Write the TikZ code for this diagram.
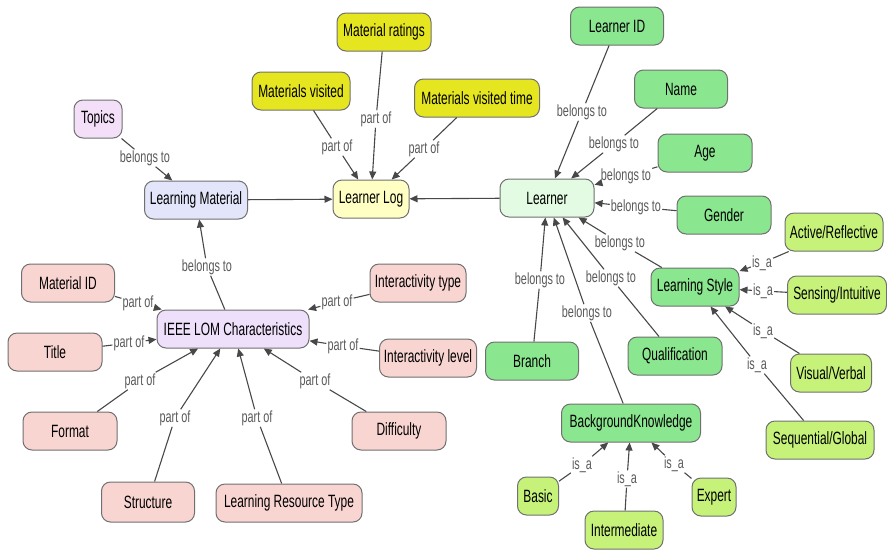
\documentclass[tikz,border=0pt]{standalone}
\usepackage{fontspec}
\setmainfont{Liberation Sans}[FakeStretch=0.67]
\usetikzlibrary{arrows.meta}
\definecolor{boxborder}{HTML}{707070}
\definecolor{lblgray}{HTML}{5A5A5A}
\definecolor{linegray}{HTML}{484848}
\definecolor{matyellow}{HTML}{E6E620}
\definecolor{logyellow}{HTML}{FFFFC4}
\definecolor{topicc}{HTML}{F3E0F8}
\definecolor{learnmat}{HTML}{E3E5FA}
\definecolor{ieeec}{HTML}{EEDFFA}
\definecolor{pinkc}{HTML}{F9D5D2}
\definecolor{greenc}{HTML}{8AE68F}
\definecolor{learnerc}{HTML}{E2FBE2}
\definecolor{limec}{HTML}{C6F27A}
\begin{document}
\begin{tikzpicture}[x=1pt,y=-1pt,
 box/.style={draw=boxborder, line width=1pt, rounded corners=9pt, minimum height=38pt, inner sep=3pt, font=\fontsize{17.8}{19}\selectfont, text=black},
 lbl/.style={fill=white, inner sep=1pt, text=lblgray, font=\fontsize{16.2}{18}\selectfont},
 conn/.style={draw=linegray, line width=1.1pt},
 arr/.style={conn, -{Triangle[length=8pt,width=7pt]}}]
\useasboundingbox (0,0) rectangle (887,550);
% ---- nodes
\node[box, fill=topicc, minimum width=48pt] (topics) at (98,119) {Topics};
\node[box, fill=learnmat, minimum width=103pt] (lm) at (196,200) {Learning Material};
\node[box, fill=logyellow, minimum width=76pt] (ll) at (371,199) {Learner Log};
\node[box, fill=matyellow, minimum width=98pt] (mv) at (301,91) {Materials visited};
\node[box, fill=matyellow, minimum width=94pt] (mr) at (384,32) {Material ratings};
\node[box, fill=matyellow, minimum width=125pt] (mvt) at (477,98) {Materials visited time};
\node[box, fill=greenc, minimum width=93pt] (lid) at (617,26) {Learner ID};
\node[box, fill=greenc, minimum width=93pt] (name) at (681,89) {Name};
\node[box, fill=greenc, minimum width=94pt] (age) at (705,153) {Age};
\node[box, fill=greenc, minimum width=94pt] (gender) at (724,215) {Gender};
\node[box, fill=learnerc, minimum width=94pt] (learner) at (547,198) {Learner};
\node[box, fill=limec, minimum width=98pt] (act) at (834,232) {Active/Reflective};
\node[box, fill=greenc, minimum width=88pt] (ls) at (695,287) {Learning Style};
\node[box, fill=limec, minimum width=99pt] (sens) at (837,295) {Sensing/Intuitive};
\node[box, fill=limec, minimum width=81pt] (vis) at (831,373) {Visual/Verbal};
\node[box, fill=limec, minimum width=108pt] (seq) at (820,440) {Sequential/Global};
\node[box, fill=greenc, minimum width=94pt] (qual) at (675,356) {Qualification};
\node[box, fill=greenc, minimum width=93pt] (branch) at (532,361) {Branch};
\node[box, fill=greenc, minimum width=139pt] (bk) at (631,423) {BackgroundKnowledge};
\node[box, fill=limec, minimum width=41pt] (basic) at (538,496) {Basic};
\node[box, fill=limec, minimum width=78pt] (inter) at (624,530) {Intermediate};
\node[box, fill=limec, minimum width=44pt] (expert) at (714,497) {Expert};
\node[box, fill=pinkc, minimum width=93pt] (mid) at (68,283) {Material ID};
\node[box, fill=ieeec, minimum width=152pt] (ieee) at (233,329) {IEEE LOM Characteristics};
\node[box, fill=pinkc, minimum width=96pt] (itype) at (418,283) {Interactivity type};
\node[box, fill=pinkc, minimum width=94pt] (title) at (55,352) {Title};
\node[box, fill=pinkc, minimum width=97pt] (ilevel) at (428,358) {Interactivity level};
\node[box, fill=pinkc, minimum width=94pt] (format) at (70,431) {Format};
\node[box, fill=pinkc, minimum width=94pt] (diff) at (399,431) {Difficulty};
\node[box, fill=pinkc, minimum width=93pt, minimum height=40pt] (struct) at (148,502) {Structure};
\node[box, fill=pinkc, minimum width=146pt] (lrt) at (289,503) {Learning Resource Type};
% ---- labels
\node[lbl] (l1) at (145,158) {belongs to};
\node[lbl] (l2) at (207,267) {belongs to};
\node[lbl] (l5) at (337,147) {part of};
\node[lbl] (l6) at (376,119) {part of};
\node[lbl] (l7) at (424,149) {part of};
\node[lbl] (l8) at (582,112) {belongs to};
\node[lbl] (l9) at (614,144) {belongs to};
\node[lbl] (l10) at (626,176) {belongs to};
\node[lbl] (l11) at (636,207) {belongs to};
\node[lbl] (l12) at (620,243) {belongs to};
\node[lbl] (l13) at (611,278) {belongs to};
\node[lbl] (l14) at (587,313) {belongs to};
\node[lbl] (l15) at (540,280) {belongs to};
\node[lbl] (l16) at (762,263) {is\_a};
\node[lbl] (l17) at (763,291) {is\_a};
\node[lbl] (l18) at (763,331) {is\_a};
\node[lbl] (l19) at (757,365) {is\_a};
\node[lbl] (l20) at (582,465) {is\_a};
\node[lbl] (l21) at (627,479) {is\_a};
\node[lbl] (l22) at (674,464) {is\_a};
\node[lbl] (l23) at (138,303) {part of};
\node[lbl] (l24) at (129,343) {part of};
\node[lbl] (l25) at (140,381) {part of};
\node[lbl] (l26) at (175,418) {part of};
\node[lbl] (l27) at (257,418) {part of};
\node[lbl] (l28) at (315,381) {part of};
\node[lbl] (l29) at (343,346) {part of};
\node[lbl] (l30) at (337,302) {part of};
% ---- connectors
\draw[arr] (lm) -- (ll);
\draw[arr] (learner) -- (ll);
\foreach \s/\l/\t in {topics/l1/lm, ieee/l2/lm, mv/l5/ll, mr/l6/ll, mvt/l7/ll,
  lid/l8/learner, name/l9/learner, age/l10/learner, gender/l11/learner,
  ls/l12/learner, qual/l13/learner, bk/l14/learner, branch/l15/learner,
  act/l16/ls, sens/l17/ls, vis/l18/ls, seq/l19/ls,
  basic/l20/bk, inter/l21/bk, expert/l22/bk,
  mid/l23/ieee, title/l24/ieee, format/l25/ieee, struct/l26/ieee,
  lrt/l27/ieee, diff/l28/ieee, ilevel/l29/ieee, itype/l30/ieee}{
  \draw[conn] (\s) -- (\l);
  \draw[arr] (\l) -- (\t);
}
\end{tikzpicture}
\end{document}
